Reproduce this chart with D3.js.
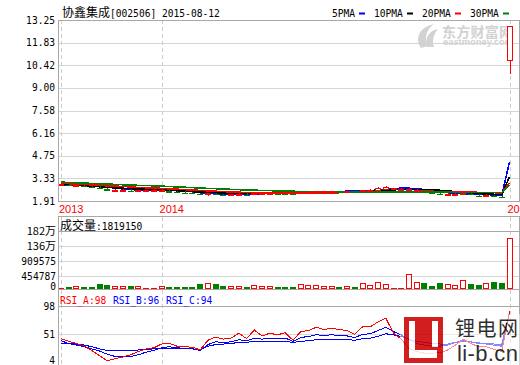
<!DOCTYPE html>
<meta charset="utf-8">
<html>
<head>
<script src="https://d3js.org/d3.v7.min.js"></script>
<style>
  body { margin: 0; background: #fff; }
  svg text { font-family: "DejaVu Sans Mono", monospace; font-size: 9.6px; }
  .cjk { font-family: "Noto Sans CJK SC", sans-serif; font-size: 12px; }
  .grid { stroke: #d6d6d6; shape-rendering: crispEdges; }
  .border { stroke: #a8a8a8; fill: none; shape-rendering: crispEdges; }
  .vdash { stroke: #cccccc; stroke-dasharray: 4,3; shape-rendering: crispEdges; }
  .ma, .rsi { fill: none; shape-rendering: crispEdges; }
</style>
</head>
<body>
<div id="chart"></div>
<script>
// ---- data (weekly bars, 59 of them) ----
var barOpen  = [2.90,2.95,2.90,2.92,2.85,2.80,2.72,2.58,2.58,2.62,2.55,2.56,2.59,2.60,2.62,2.52,2.49,2.45,2.40,2.30,2.38,2.33,2.30,2.33,2.36,2.33,2.38,2.41,2.44,2.42,2.41,2.38,2.45,2.48,2.50,2.51,2.53,2.50,2.53,2.51,2.57,2.62,2.68,2.70,2.68,2.62,2.58,2.58,2.46,2.42,2.33,2.33,2.32,2.38,2.30,2.25,2.29,2.22,10.74];
var barClose = [2.95,2.90,2.93,2.83,2.80,2.72,2.62,2.62,2.61,2.57,2.58,2.60,2.62,2.63,2.52,2.48,2.44,2.40,2.32,2.38,2.32,2.30,2.34,2.36,2.33,2.38,2.42,2.44,2.42,2.40,2.38,2.46,2.49,2.51,2.52,2.53,2.50,2.53,2.50,2.58,2.62,2.75,2.81,2.71,2.69,2.68,2.62,2.45,2.41,2.34,2.37,2.36,2.40,2.30,2.25,2.30,2.21,2.17,12.87];
var barHigh  = [3.00,2.98,2.97,2.94,2.88,2.83,2.74,2.66,2.64,2.65,2.62,2.63,2.65,2.66,2.64,2.55,2.51,2.47,2.42,2.40,2.40,2.35,2.36,2.38,2.38,2.40,2.44,2.46,2.46,2.44,2.43,2.48,2.51,2.53,2.54,2.55,2.55,2.55,2.55,2.60,2.64,2.77,2.84,2.73,2.71,2.75,2.66,2.60,2.48,2.44,2.39,2.38,2.44,2.40,2.32,2.32,2.31,2.24,12.87];
var barLow   = [2.88,2.86,2.87,2.80,2.76,2.69,2.60,2.53,2.55,2.54,2.48,2.54,2.56,2.57,2.50,2.46,2.41,2.36,2.28,2.25,2.28,2.27,2.28,2.31,2.30,2.31,2.36,2.39,2.40,2.38,2.36,2.37,2.43,2.46,2.48,2.49,2.48,2.49,2.48,2.50,2.55,2.60,2.66,2.68,2.66,2.60,2.55,2.42,2.38,2.31,2.29,2.31,2.30,2.27,2.22,2.21,2.18,2.14,9.87];
var volume   = [50000,107000,107000,107000,107000,214000,178000,107000,107000,143000,107000,45000,45000,107000,107000,107000,107000,107000,214000,200000,214000,143000,107000,107000,107000,143000,107000,107000,107000,107000,107000,178000,143000,143000,107000,107000,107000,107000,107000,214000,143000,250000,178000,45000,45000,524000,250000,250000,143000,250000,178000,143000,321000,214000,178000,214000,285000,250000,1819150];
var ma5  = [2.93,2.93,2.92,2.90,2.87,2.83,2.78,2.72,2.67,2.63,2.60,2.59,2.59,2.60,2.59,2.56,2.53,2.49,2.43,2.40,2.37,2.35,2.33,2.34,2.34,2.34,2.36,2.39,2.41,2.42,2.42,2.43,2.44,2.46,2.49,2.51,2.51,2.52,2.52,2.53,2.56,2.60,2.66,2.69,2.71,2.71,2.67,2.63,2.57,2.50,2.44,2.39,2.37,2.36,2.34,2.32,2.29,2.25,4.37];
var ma10 = [2.96,2.94,2.91,2.88,2.84,2.80,2.77,2.74,2.71,2.68,2.66,2.64,2.62,2.60,2.58,2.55,2.53,2.50,2.47,2.45,2.43,2.42,2.41,2.41,2.41,2.40,2.40,2.40,2.40,2.40,2.41,2.41,2.42,2.43,2.44,2.45,2.46,2.47,2.48,2.50,2.52,2.55,2.58,2.61,2.63,2.64,2.64,2.63,2.61,2.58,2.54,2.50,2.46,2.42,2.38,2.35,2.33,2.31,3.43];
var ma20 = [3.02,3.00,2.97,2.95,2.92,2.89,2.86,2.84,2.82,2.79,2.76,2.74,2.72,2.70,2.67,2.65,2.62,2.60,2.57,2.55,2.52,2.50,2.48,2.46,2.44,2.43,2.42,2.41,2.41,2.40,2.40,2.40,2.41,2.41,2.42,2.42,2.43,2.44,2.44,2.45,2.46,2.47,2.48,2.49,2.50,2.51,2.52,2.52,2.52,2.51,2.50,2.49,2.48,2.47,2.45,2.44,2.43,2.42,3.06];
var ma30 = [3.09,3.07,3.05,3.03,3.01,2.99,2.97,2.95,2.93,2.91,2.89,2.88,2.86,2.84,2.82,2.79,2.77,2.75,2.72,2.70,2.68,2.66,2.64,2.62,2.60,2.59,2.57,2.56,2.54,2.53,2.52,2.51,2.50,2.49,2.48,2.48,2.47,2.47,2.46,2.46,2.46,2.46,2.46,2.46,2.47,2.47,2.47,2.47,2.46,2.46,2.46,2.45,2.45,2.45,2.44,2.44,2.43,2.43,2.90];
var rsiA = [47,42,38,33,25,15,6,10,13,17,23,28,30,37,38,33,32,31,26,44,50,46,48,57,47,63,52,57,54,58,44,60,62,68,64,66,64,62,55,69,69,78,85,57,46,29,23,20,20,21,26,35,46,38,32,32,27,23,98];
var rsiB = [43,38,35,32,28,24,18,14,14,14,17,22,25,30,32,30,29,28,25,36,41,40,41,45,43,48,46,48,47,48,42,49,51,54,53,54,53,52,49,55,56,62,68,60,54,45,38,35,33,33,35,40,44,41,38,37,35,33,96];
var rsiC = [37.6,37.5,37,35,32,28,25,25,25,25,26,27,28,28,28,28,28,28,27,33,36,37,38,40,40,42,41,42,42,42,40,42,43,45,45,45,45,45,44,47,48,51,56,54,51,46,42,40,38,37,37,40,42,41,39,38,37,36,94];

var priceTicks = [13.25, 11.83, 10.42, 9.00, 7.58, 6.16, 4.75, 3.33, 1.91];
var volTicks = [0, 454787, 909575, 1364362, 1819150];
var volTickLabels = ["0", "454787", "909575", "136万", "182万"];
var rsiTicks = [4, 51, 98];
var yearBars = [0, 13, 58];
var yearLabels = ["2013", "2014", "2015"];
var maNames = ["5PMA", "10PMA", "20PMA", "30PMA"];
var maColors = ["#0000ff", "#000000", "#ff0000", "#008000"];
var maSeries = [ma5, ma10, ma20, ma30];

var W = 520, H = 365, left = 58, right = 519;
var red = "#ff0000", green = "#008000", blue = "#0000ff";

var svg = d3.select("#chart").append("svg").attr("width", W).attr("height", H);

var x = d3.scaleLinear().domain([0, 58]).range([61, 509.5]);
var yPrice = d3.scaleLinear().domain([1.91, 13.25]).range([201, 20]);
var yVol = d3.scaleLinear().domain([0, 1819150]).range([289, 238]);
var yVolTick = d3.scaleLinear().domain([0, 1819150]).range([291, 231]);
var yRsi = d3.scaleLinear().domain([0, 100]).range([364, 310]);
var yRsiTick = d3.scaleLinear().domain([4, 98]).range([362, 306]);

function px(v) { return Math.round(v) + 0.5; }
var idx = d3.range(barClose.length);

function clip(id, y0, y1) {
  svg.append("clipPath").attr("id", id).append("rect")
    .attr("x", left + 1).attr("y", y0).attr("width", right - left - 1).attr("height", y1 - y0);
}
clip("cMain", 20, 201); clip("cVol", 231, 289); clip("cRsi", 306, 365);

// ---- grids ----
svg.append("g").selectAll("line").data(priceTicks.slice(1, -1)).enter().append("line")
  .attr("class", "grid").attr("x1", left).attr("x2", right)
  .attr("y1", function (d) { return px(yPrice(d)); }).attr("y2", function (d) { return px(yPrice(d)); });
svg.append("g").selectAll("line").data(volTicks.slice(1, -1)).enter().append("line")
  .attr("class", "grid").attr("x1", left).attr("x2", right)
  .attr("y1", function (d) { return px(yVolTick(d)); }).attr("y2", function (d) { return px(yVolTick(d)); });
svg.append("g").selectAll("line").data([51]).enter().append("line")
  .attr("class", "grid").attr("x1", left).attr("x2", right)
  .attr("y1", function (d) { return px(yRsiTick(d)); }).attr("y2", function (d) { return px(yRsiTick(d)); });

// dashed year lines
[[20, 201], [217, 289], [290, 365]].forEach(function (r) {
  svg.append("g").selectAll("line").data(yearBars).enter().append("line")
    .attr("class", "vdash")
    .attr("x1", function (d) { return px(x(d)); }).attr("x2", function (d) { return px(x(d)); })
    .attr("y1", r[0]).attr("y2", r[1]);
});

// ---- watermarks (behind marks) ----
var wm = svg.append("g").attr("fill", "#d2d2d2");
wm.append("path").attr("d", "M421,48 C414,38 420,27 434,24 C426,30 424,38 428,46 Z");
wm.append("path").attr("d", "M427,47 C424,38 430,30 438,29 C433,35 432,41 434,47 Z");
wm.append("text").attr("class", "cjk").attr("x", 442).attr("y", 37)
  .style("font-size", "14px").style("font-weight", "bold").attr("textLength", 71).text("东方财富网");
wm.append("text").attr("x", 443).attr("y", 45)
  .style("font-family", "Liberation Sans, sans-serif").style("font-size", "9px").style("font-weight", "bold")
  .attr("textLength", 70).attr("lengthAdjust", "spacingAndGlyphs").text("eastmoney.com");

// ---- main panel ----
var main = svg.append("g").attr("clip-path", "url(#cMain)");
maSeries.forEach(function (s, k) {
  main.append("path").attr("class", "ma").attr("stroke", maColors[k]).attr("stroke-width", 1.6)
    .attr("d", d3.line().x(function (i) { return x(i); }).y(function (i) { return yPrice(s[i]); })(idx));
});
var candle = main.append("g").selectAll("g").data(idx).enter().append("g");
candle.append("line")
  .attr("x1", function (i) { return px(x(i)); }).attr("x2", function (i) { return px(x(i)); })
  .attr("y1", function (i) { return yPrice(barHigh[i]); }).attr("y2", function (i) { return yPrice(barLow[i]); })
  .attr("stroke", function (i) { return barClose[i] >= barOpen[i] ? red : green; })
  .style("shape-rendering", "crispEdges");
candle.append("rect")
  .attr("x", function (i) { return Math.round(x(i) - 3) + (barClose[i] >= barOpen[i] ? 0.5 : 0); })
  .attr("width", function (i) { return barClose[i] >= barOpen[i] ? 5 : 6; })
  .attr("y", function (i) { return Math.round(yPrice(Math.max(barOpen[i], barClose[i]))) + 0.5; })
  .attr("height", function (i) { return Math.max(1, Math.round(Math.abs(yPrice(barOpen[i]) - yPrice(barClose[i])))); })
  .attr("fill", function (i) { return barClose[i] >= barOpen[i] ? "#fff" : green; })
  .attr("stroke", function (i) { return barClose[i] >= barOpen[i] ? red : "none"; })
  .style("shape-rendering", "crispEdges");

// ---- volume panel ----
var vol = svg.append("g").attr("clip-path", "url(#cVol)");
vol.selectAll("rect").data(idx).enter().append("rect")
  .attr("x", function (i) { return Math.round(x(i) - 3) + (barClose[i] >= barOpen[i] ? 0.5 : 0); })
  .attr("width", function (i) { return barClose[i] >= barOpen[i] ? 5 : 6; })
  .attr("y", function (i) { return Math.round(yVol(volume[i])) + 0.5; })
  .attr("height", function (i) { return Math.max(1, Math.round(yVol(0) - yVol(volume[i])) - 1); })
  .attr("fill", function (i) { return barClose[i] >= barOpen[i] ? "#fff" : green; })
  .attr("stroke", function (i) { return barClose[i] >= barOpen[i] ? red : "none"; })
  .style("shape-rendering", "crispEdges");

// ---- RSI panel ----
var rsi = svg.append("g").attr("clip-path", "url(#cRsi)");
[[rsiC, blue], [rsiB, blue], [rsiA, red]].forEach(function (s) {
  rsi.append("path").attr("class", "rsi").attr("stroke", s[1]).attr("stroke-width", 1)
    .attr("d", d3.line().x(function (i) { return x(i); }).y(function (i) { return yRsi(s[0][i]); })(idx));
});

// ---- borders ----
svg.append("path").attr("class", "border")
  .attr("d", "M" + (left + 0.5) + ",20.5H" + (right + 0.5) + "V201.5H" + (left + 0.5) + "Z");
svg.append("path").attr("class", "border")
  .attr("d", "M" + (left + 0.5) + ",216.5H" + (right + 0.5) + "V289.5H" + (left + 0.5) + "Z");
svg.append("path").attr("class", "border")
  .attr("d", "M" + (left + 0.5) + ",231.5H" + (right + 0.5));
svg.append("path").attr("class", "border")
  .attr("d", "M" + (left + 0.5) + ",365V289.5H" + (right + 0.5) + "V365");
svg.append("path").attr("class", "border")
  .attr("d", "M" + (left + 0.5) + ",306.5H" + (right + 0.5));

// ---- axis labels ----
var ax = svg.append("g").attr("text-anchor", "end");
ax.selectAll(".pt").data(priceTicks).enter().append("text")
  .attr("x", 55).attr("y", function (d) { return yPrice(d) + 3.5; })
  .text(function (d) { return d.toFixed(2); });
ax.selectAll(".vt").data(volTicks).enter().append("text")
  .attr("x", 56).attr("y", function (d) { return Math.min(yVolTick(d), 286) + 3.5; })
  .attr("class", function (d, i) { return i >= 3 ? "cjk" : null; })
  .style("font-size", function (d, i) { return i >= 3 ? "11px" : null; })
  .text(function (d, i) { return volTickLabels[i]; });
ax.selectAll(".rt").data(rsiTicks).enter().append("text")
  .attr("x", 55).attr("y", function (d) { return Math.min(yRsiTick(d) + 3.5, 364); })
  .text(function (d) { return d; });

svg.append("g").selectAll("text").data(yearBars).enter().append("text")
  .attr("x", function (d) { return x(d) - 2; }).attr("y", 213)
  .attr("fill", red).style("font-size", "11px").style("font-family", "Liberation Sans, sans-serif")
  .text(function (d, i) { return yearLabels[i]; });

// ---- headers ----
var t1 = svg.append("text").attr("x", 62).attr("y", 17);
t1.append("tspan").attr("class", "cjk").text("协鑫集成");
t1.append("tspan").text("[002506] 2015-08-12");

var lg = svg.append("g");
var lgTextX = [332, 374, 422, 470];
maNames.forEach(function (n, k) {
  lg.append("text").attr("x", lgTextX[k]).attr("y", 17).text(n);
  lg.append("rect").attr("x", lgTextX[k] + n.length * 6 + 3).attr("y", 12.5).attr("width", 6).attr("height", 2)
    .attr("fill", maColors[k]);
});

var t2 = svg.append("text").attr("x", 60).attr("y", 230);
t2.append("tspan").attr("class", "cjk").text("成交量");
t2.append("tspan").text(":" + d3.max(volume));

var rsiNames = [["RSI_A", rsiA, red], ["RSI_B", rsiB, blue], ["RSI_C", rsiC, blue]];
rsiNames.forEach(function (r, k) {
  svg.append("text").attr("x", 60 + k * 53).attr("y", 303.5).attr("fill", r[2])
    .text(r[0] + ":" + r[1][r[1].length - 1]);
});

// ---- li-b.cn logo (over the RSI lines) ----
var lb = svg.append("g").attr("opacity", 0.88);
lb.append("rect").attr("x", 400).attr("y", 314).attr("width", 120).attr("height", 51).attr("fill", "#fff").attr("opacity", 0.6);
lb.append("rect").attr("x", 404).attr("y", 317).attr("width", 39).attr("height", 46).attr("fill", "#cc0000");
lb.append("rect").attr("x", 409).attr("y", 321).attr("width", 6).attr("height", 37).attr("fill", "#fff");
lb.append("rect").attr("x", 409).attr("y", 350).attr("width", 28).attr("height", 8).attr("fill", "#fff");
lb.append("rect").attr("x", 432).attr("y", 321).attr("width", 6).attr("height", 26).attr("fill", "#fff");
lb.append("text").attr("class", "cjk").attr("x", 455).attr("y", 336).style("font-size", "20px")
  .attr("textLength", 63).attr("fill", "#111").text("锂电网");
lb.append("text").attr("x", 457).attr("y", 361).style("font-family", "Liberation Sans, sans-serif")
  .style("font-size", "22px").attr("textLength", 61).attr("fill", "#111").text("li-b.cn");
</script>
</body>
</html>
